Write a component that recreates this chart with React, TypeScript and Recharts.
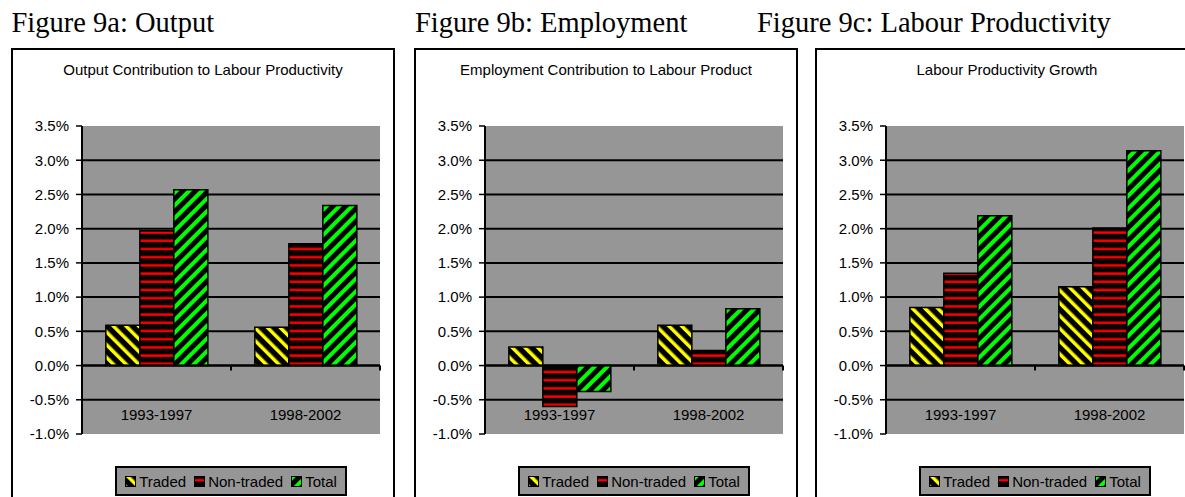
import { BarChart, Bar, XAxis, YAxis, CartesianGrid, ReferenceLine } from "recharts";

// periods on the category axis
const categories = ["1993-1997", "1998-2002"];

// Figure 9a: output contribution (% per year)
const outputTraded = [0.59, 0.56];
const outputNonTraded = [1.97, 1.78];
const outputTotal = [2.57, 2.34];

// Figure 9b: employment contribution
const employmentTraded = [0.27, 0.59];
const employmentNonTraded = [-0.6, 0.22];
const employmentTotal = [-0.38, 0.83];

// Figure 9c: labour productivity growth
const productivityTraded = [0.85, 1.15];
const productivityNonTraded = [1.35, 2.01];
const productivityTotal = [2.19, 3.14];

const yTicks = [-1.0, -0.5, 0.0, 0.5, 1.0, 1.5, 2.0, 2.5, 3.0, 3.5];
const gridValues = [-0.5, 0.0, 0.5, 1.0, 1.5, 2.0, 2.5, 3.0];

const seriesNames = ["Traded", "Non-traded", "Total"];
const seriesKeys = ["traded", "nonTraded", "total"];
const seriesPatterns = ["url(#pat-traded)", "url(#pat-nontraded)", "url(#pat-total)"];

const captions = ["Figure 9a: Output", "Figure 9b: Employment", "Figure 9c: Labour Productivity"];
const titles = [
  "Output Contribution to Labour Productivity",
  "Employment Contribution to Labour Product",
  "Labour Productivity Growth",
];

const SANS = "'Liberation Sans', Arial, sans-serif";
const SERIF = "'Liberation Serif', 'Times New Roman', serif";
const PLOT_GRAY = "#969696";

const FRAME_LEFT = [11, 414, 815];
const FRAME_TOP = 48;
const CHART_W = 384;
const CHART_H = 460;

function buildRows(traded: number[], nonTraded: number[], total: number[]) {
  return categories.map((category, i) => ({
    category,
    traded: traded[i],
    nonTraded: nonTraded[i],
    total: total[i],
  }));
}

const panelData = [
  buildRows(outputTraded, outputNonTraded, outputTotal),
  buildRows(employmentTraded, employmentNonTraded, employmentTotal),
  buildRows(productivityTraded, productivityNonTraded, productivityTotal),
];

function Patterns() {
  return (
    <svg width={0} height={0} style={{ position: "absolute" }}>
      <defs>
        <pattern id="pat-traded" patternUnits="userSpaceOnUse" width={9} height={9} patternTransform="rotate(-45)">
          <rect width={9} height={9} fill="#000" />
          <rect width={3.5} height={9} fill="#ffff00" />
        </pattern>
        <pattern id="pat-nontraded" patternUnits="userSpaceOnUse" width={8} height={8.2}>
          <rect width={8} height={8.2} fill="#0a0000" />
          <rect y={3} width={8} height={2.4} fill="#ff0000" />
        </pattern>
        <pattern id="pat-total" patternUnits="userSpaceOnUse" width={9} height={9} patternTransform="rotate(45)">
          <rect width={9} height={9} fill="#000" />
          <rect width={4} height={9} fill="#00ff00" />
        </pattern>
      </defs>
    </svg>
  );
}

const CategoryTick = (props: any) => {
  const { x, y, payload } = props;
  return (
    <text x={x} y={y - 14} textAnchor="middle" fontSize={15} fontFamily={SANS} fill="#000">
      {payload.value}
    </text>
  );
};

// zero line of the category axis, with tick marks at the category edges
const ZeroAxis = (props: any) => {
  const { x1, y1, x2 } = props;
  const mid = (x1 + x2) / 2;
  return (
    <g>
      <line x1={x1} y1={y1} x2={x2} y2={y1} stroke="#000" strokeWidth={2} />
      <line x1={mid} y1={y1} x2={mid} y2={y1 + 5} stroke="#000" strokeWidth={2} />
      <line x1={x2} y1={y1} x2={x2} y2={y1 + 5} stroke="#000" strokeWidth={2} />
    </g>
  );
};

function Legend() {
  return (
    <div
      style={{
        position: "absolute",
        left: 71,
        top: 418,
        width: 298,
        display: "flex",
        justifyContent: "center",
      }}
    >
      <div
        style={{
          height: 30,
          boxSizing: "border-box",
          border: "2px solid #000",
          background: PLOT_GRAY,
          display: "flex",
          alignItems: "center",
          padding: "0 8px",
          fontFamily: SANS,
          fontSize: 15,
          color: "#000",
        }}
      >
        {seriesNames.map((name, i) => (
          <div key={name} style={{ display: "flex", alignItems: "center", marginLeft: i === 0 ? 0 : 8 }}>
            <svg width={11} height={11} style={{ marginRight: 3 }}>
              <rect x={0.5} y={0.5} width={10} height={10} fill={seriesPatterns[i]} stroke="#000" />
            </svg>
            <span>{name}</span>
          </div>
        ))}
      </div>
    </div>
  );
}

function Panel({ index }: { index: number }) {
  const left = FRAME_LEFT[index];
  return (
    <div style={{ position: "absolute", left, top: FRAME_TOP, width: CHART_W, height: CHART_H }}>
      <div
        style={{
          position: "absolute",
          left: 0,
          top: 0,
          width: CHART_W,
          height: CHART_H,
          boxSizing: "border-box",
          border: "2px solid #000",
        }}
      />
      <svg width={CHART_W} height={40} style={{ position: "absolute", left: 0, top: 0 }}>
        <text x={CHART_W / 2} y={27} textAnchor="middle" fontSize={15} fontFamily={SANS} fill="#000">
          {titles[index]}
        </text>
      </svg>
      <div style={{ position: "absolute", left: 0, top: 0 }}>
        <BarChart
          width={CHART_W}
          height={CHART_H}
          data={panelData[index]}
          margin={{ top: 78, right: 15, bottom: 73, left: 11 }}
          barCategoryGap="16%"
          barGap={0}
        >
          <CartesianGrid
            vertical={false}
            horizontalValues={gridValues}
            stroke="#000"
            strokeWidth={2}
            fill={PLOT_GRAY}
            fillOpacity={1}
          />
          <XAxis
            dataKey="category"
            axisLine={false}
            tickLine={false}
            tickSize={0}
            tickMargin={0}
            height={1}
            interval={0}
            tick={CategoryTick}
          />
          <YAxis
            type="number"
            domain={[-1, 3.5]}
            ticks={yTicks}
            interval={0}
            width={60}
            tickFormatter={(v: number) => `${v.toFixed(1)}%`}
            axisLine={{ stroke: "#000", strokeWidth: 2 }}
            tickLine={{ stroke: "#000", strokeWidth: 1.5 }}
            tickSize={6}
            tickMargin={7}
            tick={{ fill: "#000", fontSize: 15, fontFamily: SANS }}
          />
          {seriesKeys.map((key, i) => (
            <Bar
              key={key}
              dataKey={key}
              name={seriesNames[i]}
              fill={seriesPatterns[i]}
              stroke="#000"
              strokeWidth={1.5}
              isAnimationActive={false}
            />
          ))}
          <ReferenceLine y={0} shape={ZeroAxis} />
        </BarChart>
      </div>
      <Legend />
    </div>
  );
}

export default function App() {
  return (
    <div
      style={{
        position: "absolute",
        left: 0,
        top: 0,
        width: 1185,
        height: 497,
        overflow: "hidden",
        background: "#fff",
      }}
    >
      <Patterns />
      <svg width={1185} height={45} style={{ position: "absolute", left: 0, top: 0 }}>
        {captions.map((c, i) => (
          <text key={c} x={[11.5, 415, 757][i]} y={32} fontSize={28.5} fontFamily={SERIF} fill="#000">
            {c}
          </text>
        ))}
      </svg>
      {[0, 1, 2].map((i) => (
        <Panel key={i} index={i} />
      ))}
    </div>
  );
}
